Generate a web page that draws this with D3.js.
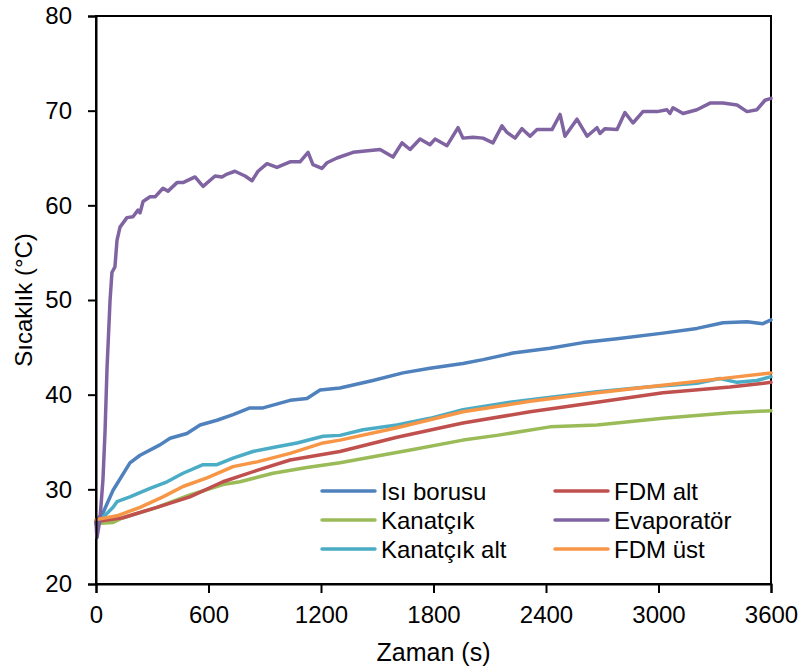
<!DOCTYPE html>
<html><head><meta charset="utf-8">
<script src="https://cdn.jsdelivr.net/npm/d3@7"></script>
<style>
html,body{margin:0;padding:0;background:#fff;}
text{font-family:"Liberation Sans",Arial,sans-serif;fill:#000;}
</style></head>
<body><svg id="c" width="806" height="672"></svg>
<script>
// ---- data ----
const xTicks = [0, 600, 1200, 1800, 2400, 3000, 3600];
const yTicks = [20, 30, 40, 50, 60, 70, 80];
const seriesNames = ["Isı borusu", "Kanatçık", "Kanatçık alt", "FDM alt", "Evaporatör", "FDM üst"];
const seriesColors = ["#4F81BD", "#9BBB59", "#4BACC6", "#C0504D", "#8064A2", "#F79646"];

const isiT = [0,5,37,91,181,235,341,395,485,555,645,731,821,891,1035,1125,1195,1301,1477,1637,1781,1957,2064,2224,2421,2597,2779,3024,3205,3344,3472,3557,3600];
const isiV = [26.6,26.8,27.5,29.9,32.8,33.6,34.7,35.4,35.9,36.8,37.3,37.9,38.6,38.6,39.4,39.6,40.5,40.7,41.5,42.3,42.8,43.3,43.7,44.4,44.9,45.5,45.9,46.5,47.0,47.6,47.7,47.5,47.9];

const kanT = [0,91,144,325,501,677,768,944,1125,1301,1691,1957,2139,2421,2672,3024,3381,3600];
const kanV = [26.4,26.5,27.0,28.1,29.4,30.5,30.8,31.7,32.3,32.8,34.2,35.2,35.7,36.6,36.8,37.5,38.1,38.3];

const kanAltT = [0,5,91,112,181,288,379,464,571,645,731,837,965,1072,1211,1301,1424,1605,1781,1957,2208,2459,2672,2939,3205,3328,3419,3525,3600];
const kanAltV = [26.4,26.4,28.1,28.7,29.2,30.1,30.8,31.7,32.6,32.6,33.3,34.0,34.5,34.9,35.6,35.7,36.3,36.8,37.5,38.4,39.2,39.8,40.3,40.8,41.2,41.7,41.3,41.5,41.9];

const fdmAltT = [0,144,325,501,677,859,1035,1301,1605,1957,2315,2672,3024,3381,3600];
const fdmAltV = [26.6,27.0,28.1,29.2,30.8,32.0,33.1,34.0,35.5,37.0,38.2,39.2,40.2,40.8,41.3];

const evapT = [0,5,21,37,48,59,75,85,101,112,128,165,197,224,235,251,288,315,357,384,432,464,528,571,635,672,699,741,795,832,864,912,965,1035,1088,1131,1157,1205,1232,1285,1371,1515,1584,1632,1675,1728,1781,1808,1872,1931,1957,2011,2064,2117,2165,2192,2235,2272,2315,2352,2432,2475,2501,2565,2619,2672,2688,2715,2779,2821,2864,2917,2992,3045,3061,3077,3131,3205,3275,3344,3419,3472,3525,3568,3600];
const evapV = [26.5,24.9,26.8,31.0,36.0,42.9,50.0,52.9,53.5,56.3,57.7,58.7,58.8,59.5,59.2,60.4,60.9,60.9,61.8,61.5,62.4,62.4,63.0,62.0,63.1,63.0,63.3,63.6,63.1,62.6,63.6,64.4,64.0,64.6,64.6,65.6,64.3,63.9,64.5,65.0,65.6,65.9,65.1,66.6,65.9,67.0,66.4,67.0,66.3,68.2,67.1,67.2,67.1,66.6,68.4,67.7,67.1,68.1,67.3,68.0,68.0,69.6,67.3,69.1,67.3,68.2,67.6,68.1,68.0,69.8,68.7,69.9,69.9,70.1,69.7,70.3,69.7,70.1,70.8,70.8,70.6,69.9,70.1,71.1,71.3];

const fdmUstT = [0,112,235,357,464,592,731,859,1035,1211,1301,1605,1957,2315,2672,3024,3381,3600];
const fdmUstV = [26.8,27.2,28.1,29.2,30.3,31.2,32.4,32.9,33.8,34.9,35.2,36.5,38.2,39.3,40.2,41.0,41.8,42.3];

const seriesT = [isiT, kanT, kanAltT, fdmAltT, evapT, fdmUstT];
const seriesV = [isiV, kanV, kanAltV, fdmAltV, evapV, fdmUstV];

// ---- layout ----
const svg = d3.select("#c");
const L = 96, R = 771, T = 16, B = 584;
const x = d3.scaleLinear().domain([0, 3600]).range([L, R]);
const y = d3.scaleLinear().domain([20, 80]).range([B, T]);

// frame
svg.append("rect").attr("x", L).attr("y", T).attr("width", R - L).attr("height", B - T)
  .attr("fill", "none").attr("stroke", "#000").attr("stroke-width", 2);

// lines
const line = d3.line().x(d => x(d[0])).y(d => y(d[1]));
seriesNames.forEach((n, i) => {
  const pts = seriesT[i].map((t, j) => [t, seriesV[i][j]]);
  svg.append("path").datum(pts).attr("d", line).attr("fill", "none")
    .attr("stroke", seriesColors[i]).attr("stroke-width", 3.5)
    .attr("stroke-linejoin", "round").attr("stroke-linecap", "round");
});

// axes
const ya = svg.append("g").attr("transform", `translate(${L},0)`)
  .call(d3.axisLeft(y).tickValues(yTicks).tickSize(8).tickPadding(16).tickFormat(d3.format("d")));
const xa = svg.append("g").attr("transform", `translate(0,${B})`)
  .call(d3.axisBottom(x).tickValues(xTicks).tickSize(9).tickPadding(13).tickFormat(d3.format("d")));
[ya, xa].forEach(g => {
  g.select(".domain").attr("stroke", "#000").attr("stroke-width", 2);
  g.selectAll(".tick line").attr("stroke", "#000").attr("stroke-width", 2);
  g.selectAll(".tick text").attr("font-size", 24).attr("font-family", "Liberation Sans, Arial, sans-serif").attr("fill", "#000");
});

// titles
svg.append("text").attr("x", (L + R) / 2).attr("y", 661).attr("text-anchor", "middle")
  .attr("font-size", 25).text("Zaman (s)");
svg.append("text").attr("transform", `translate(32,${(T + B) / 2}) rotate(-90)`)
  .attr("text-anchor", "middle").attr("font-size", 24).text("Sıcaklık (°C)");

// legend
const legX = [322, 555], legY = [491, 520, 549];
const order = [[0, 0, 0], [1, 0, 1], [2, 0, 2], [3, 1, 0], [4, 1, 1], [5, 1, 2]];
order.forEach(([i, c, r]) => {
  const g = svg.append("g").attr("transform", `translate(${legX[c]},${legY[r]})`);
  g.append("line").attr("x1", 0).attr("x2", 53).attr("y1", 0).attr("y2", 0)
    .attr("stroke", seriesColors[i]).attr("stroke-width", 3.5).attr("stroke-linecap", "round");
  g.append("text").attr("x", 59).attr("y", 9).attr("font-size", 24).text(seriesNames[i]);
});
</script></body></html>
